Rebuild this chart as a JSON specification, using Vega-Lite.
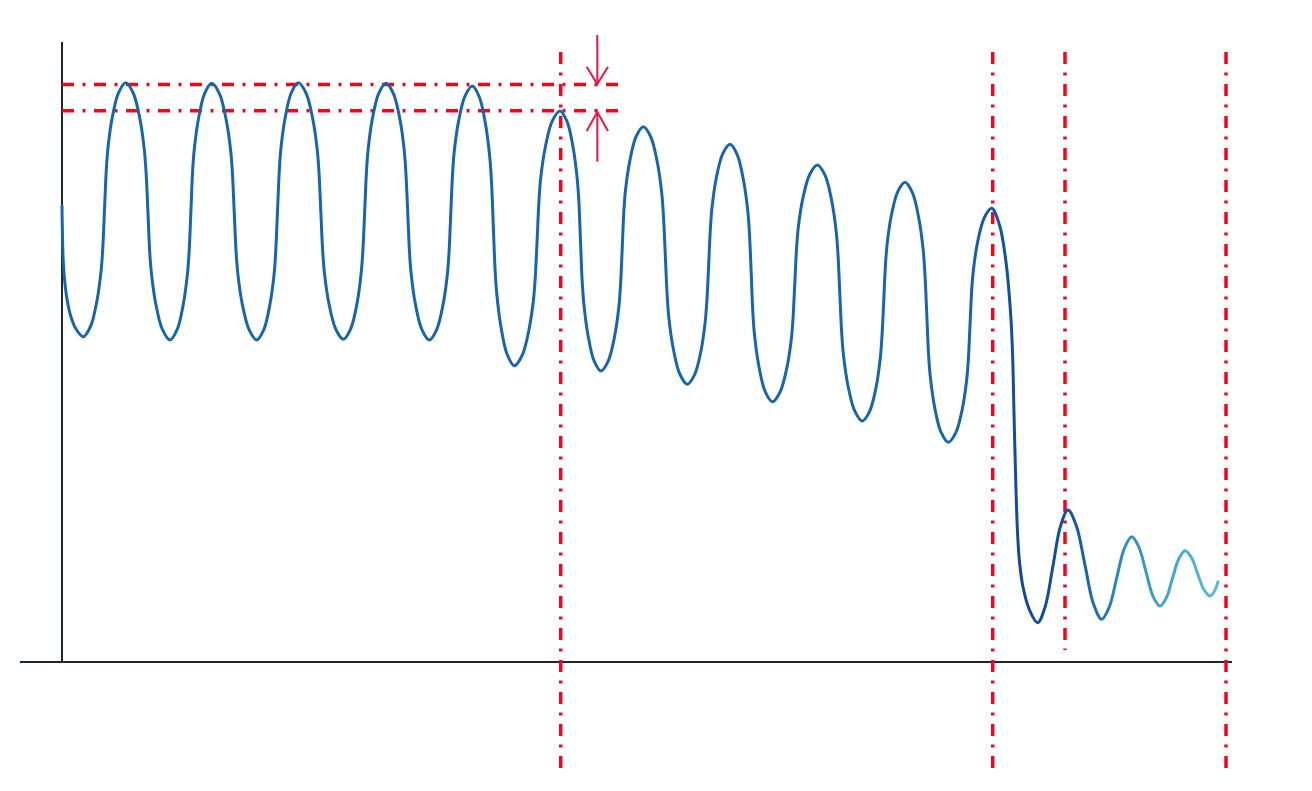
{
  "$schema": "https://vega.github.io/schema/vega-lite/v6.json",
  "width": 1312,
  "height": 791,
  "padding": 0,
  "autosize": {"type": "fit", "contains": "padding"},
  "background": "white",
  "config": {"view": {"stroke": null}},
  "datasets": {
    "axes": [
      {"x": 20, "x2": 1232, "y": 0, "y2": 0},
      {"x": 62, "x2": 62, "y": 0, "y2": 620}
    ],
    "guides": [
      {"x": 62, "x2": 626, "y": 577.5, "y2": 577.5},
      {"x": 62, "x2": 626, "y": 551.2, "y2": 551.2},
      {"x": 560.7, "x2": 560.7, "y": 610, "y2": -110},
      {"x": 992.7, "x2": 992.7, "y": 610, "y2": -110},
      {"x": 1065, "x2": 1065, "y": 610, "y2": 12},
      {"x": 1226, "x2": 1226, "y": 610, "y2": -110}
    ],
    "arrowShafts": [
      {"x": 597.3, "x2": 597.3, "y": 627, "y2": 579},
      {"x": 597.3, "x2": 597.3, "y": 500.3, "y2": 550}
    ],
    "arrowHeads": [
      {"id": "down", "o": 1, "x": 586.7, "y": 595.3},
      {"id": "down", "o": 2, "x": 597.3, "y": 578},
      {"id": "down", "o": 3, "x": 608, "y": 595.3},
      {"id": "up", "o": 1, "x": 586.7, "y": 531},
      {"id": "up", "o": 2, "x": 597.3, "y": 550},
      {"id": "up", "o": 3, "x": 608, "y": 531}
    ],
    "wave": [
      {"x": 62, "y": 456}, {"x": 62.4, "y": 430}, {"x": 63.3, "y": 400}, {"x": 65, "y": 378},
      {"x": 67.5, "y": 360}, {"x": 71, "y": 345}, {"x": 76, "y": 333},
      {"x": 83.3, "y": 325.3},
      {"x": 90.5, "y": 335.5}, {"x": 96.9, "y": 360.9}, {"x": 101.1, "y": 391.3}, {"x": 102.8, "y": 414.2},
      {"x": 104.5, "y": 452.3}, {"x": 106.2, "y": 490.4}, {"x": 107.9, "y": 513.3}, {"x": 112.1, "y": 543.7}, {"x": 118.5, "y": 569.1},
      {"x": 125.7, "y": 579.3},
      {"x": 133.2, "y": 569.0}, {"x": 139.9, "y": 543.3}, {"x": 144.3, "y": 512.4}, {"x": 146.1, "y": 489.2},
      {"x": 147.9, "y": 450.7}, {"x": 149.6, "y": 412.1}, {"x": 151.4, "y": 388.9}, {"x": 155.8, "y": 358.0}, {"x": 162.5, "y": 332.3},
      {"x": 170, "y": 322},
      {"x": 177.1, "y": 332.3}, {"x": 183.3, "y": 357.9}, {"x": 187.5, "y": 388.7}, {"x": 189.2, "y": 411.9},
      {"x": 190.9, "y": 450.4}, {"x": 192.5, "y": 488.9}, {"x": 194.2, "y": 512.0}, {"x": 198.4, "y": 542.8}, {"x": 204.6, "y": 568.4},
      {"x": 211.7, "y": 578.7},
      {"x": 219.4, "y": 568.4}, {"x": 226.1, "y": 542.8}, {"x": 230.6, "y": 512.0}, {"x": 232.4, "y": 488.9},
      {"x": 234.2, "y": 450.4}, {"x": 236.0, "y": 411.8}, {"x": 237.8, "y": 388.7}, {"x": 242.3, "y": 357.9}, {"x": 249.1, "y": 332.3},
      {"x": 256.7, "y": 322},
      {"x": 263.8, "y": 332.3}, {"x": 270.0, "y": 358.0}, {"x": 274.2, "y": 388.9}, {"x": 275.8, "y": 412.1},
      {"x": 277.5, "y": 450.7}, {"x": 279.2, "y": 489.3}, {"x": 280.8, "y": 512.4}, {"x": 285.0, "y": 543.3}, {"x": 291.2, "y": 569.0},
      {"x": 298.3, "y": 579.3},
      {"x": 306.0, "y": 569.0}, {"x": 312.7, "y": 543.4}, {"x": 317.2, "y": 512.6}, {"x": 319.0, "y": 489.5},
      {"x": 320.8, "y": 451.0}, {"x": 322.6, "y": 412.5}, {"x": 324.4, "y": 389.4}, {"x": 328.9, "y": 358.6}, {"x": 335.7, "y": 333.0},
      {"x": 343.3, "y": 322.7},
      {"x": 350.6, "y": 332.9}, {"x": 357.0, "y": 358.5}, {"x": 361.2, "y": 389.3}, {"x": 362.9, "y": 412.3},
      {"x": 364.7, "y": 450.7}, {"x": 366.4, "y": 489.1}, {"x": 368.1, "y": 512.1}, {"x": 372.3, "y": 542.9}, {"x": 378.7, "y": 568.5},
      {"x": 386, "y": 578.7},
      {"x": 393.4, "y": 568.4}, {"x": 399.9, "y": 542.8}, {"x": 404.2, "y": 512.0}, {"x": 405.9, "y": 488.9},
      {"x": 407.7, "y": 450.4}, {"x": 409.4, "y": 411.8}, {"x": 411.1, "y": 388.7}, {"x": 415.4, "y": 357.9}, {"x": 421.9, "y": 332.3},
      {"x": 429.3, "y": 322},
      {"x": 436.6, "y": 332.2}, {"x": 443.1, "y": 357.6}, {"x": 447.4, "y": 388.0}, {"x": 449.1, "y": 410.9},
      {"x": 450.8, "y": 449.0}, {"x": 452.5, "y": 487.1}, {"x": 454.2, "y": 510.0}, {"x": 458.5, "y": 540.4}, {"x": 465.0, "y": 565.8},
      {"x": 472.3, "y": 576},
      {"x": 479.4, "y": 564.8}, {"x": 485.7, "y": 536.8}, {"x": 489.9, "y": 503.3}, {"x": 491.6, "y": 478.1},
      {"x": 493.3, "y": 436.2}, {"x": 495.0, "y": 394.2}, {"x": 496.7, "y": 369.0}, {"x": 500.9, "y": 335.5}, {"x": 507.2, "y": 307.5},
      {"x": 514.3, "y": 296.3},
      {"x": 522.1, "y": 306.5}, {"x": 528.9, "y": 332.0}, {"x": 533.5, "y": 362.5}, {"x": 535.3, "y": 385.5},
      {"x": 537.2, "y": 423.7}, {"x": 539.0, "y": 461.9}, {"x": 540.8, "y": 484.8}, {"x": 545.4, "y": 515.3}, {"x": 552.2, "y": 540.8},
      {"x": 560, "y": 551},
      {"x": 567.0, "y": 540.6}, {"x": 573.1, "y": 514.6}, {"x": 577.2, "y": 483.4}, {"x": 578.9, "y": 460.0},
      {"x": 580.5, "y": 421.0}, {"x": 582.1, "y": 382.0}, {"x": 583.8, "y": 358.6}, {"x": 587.9, "y": 327.4}, {"x": 594.0, "y": 301.4},
      {"x": 601, "y": 291},
      {"x": 608.2, "y": 300.8}, {"x": 614.5, "y": 325.2}, {"x": 618.8, "y": 354.5}, {"x": 620.5, "y": 376.5},
      {"x": 622.2, "y": 413.2}, {"x": 623.8, "y": 449.8}, {"x": 625.5, "y": 471.8}, {"x": 629.8, "y": 501.1}, {"x": 636.1, "y": 525.5},
      {"x": 643.3, "y": 535.3},
      {"x": 650.8, "y": 525.0}, {"x": 657.4, "y": 499.2}, {"x": 661.8, "y": 468.3}, {"x": 663.5, "y": 445.1},
      {"x": 665.3, "y": 406.5}, {"x": 667.1, "y": 367.9}, {"x": 668.8, "y": 344.7}, {"x": 673.2, "y": 313.8}, {"x": 679.8, "y": 288.0},
      {"x": 687.3, "y": 277.7},
      {"x": 694.6, "y": 287.3}, {"x": 701.0, "y": 311.3}, {"x": 705.2, "y": 340.1}, {"x": 706.9, "y": 361.7},
      {"x": 708.7, "y": 397.7}, {"x": 710.4, "y": 433.7}, {"x": 712.1, "y": 455.3}, {"x": 716.3, "y": 484.1}, {"x": 722.7, "y": 508.1},
      {"x": 730, "y": 517.7},
      {"x": 737.2, "y": 507.4}, {"x": 743.5, "y": 481.7}, {"x": 747.8, "y": 450.8}, {"x": 749.5, "y": 427.6},
      {"x": 751.2, "y": 389.0}, {"x": 752.8, "y": 350.4}, {"x": 754.5, "y": 327.2}, {"x": 758.8, "y": 296.3}, {"x": 765.1, "y": 270.6},
      {"x": 772.3, "y": 260.3},
      {"x": 780.0, "y": 269.8}, {"x": 786.7, "y": 293.4}, {"x": 791.2, "y": 321.8}, {"x": 793.0, "y": 343.2},
      {"x": 794.8, "y": 378.7}, {"x": 796.6, "y": 414.2}, {"x": 798.4, "y": 435.5}, {"x": 802.9, "y": 463.9}, {"x": 809.7, "y": 487.5},
      {"x": 817.3, "y": 497},
      {"x": 825.0, "y": 486.8}, {"x": 831.7, "y": 461.2}, {"x": 836.2, "y": 430.4}, {"x": 838.0, "y": 407.4},
      {"x": 839.8, "y": 369.0}, {"x": 841.6, "y": 330.6}, {"x": 843.4, "y": 307.6}, {"x": 847.9, "y": 276.8}, {"x": 854.7, "y": 251.2},
      {"x": 862.3, "y": 241},
      {"x": 869.6, "y": 250.6}, {"x": 876.0, "y": 274.4}, {"x": 880.2, "y": 303.1}, {"x": 881.9, "y": 324.6},
      {"x": 883.7, "y": 360.4}, {"x": 885.4, "y": 396.2}, {"x": 887.1, "y": 417.6}, {"x": 891.3, "y": 446.3}, {"x": 897.7, "y": 470.2},
      {"x": 905, "y": 479.7},
      {"x": 912.4, "y": 469.3}, {"x": 918.9, "y": 443.3}, {"x": 923.2, "y": 412.1}, {"x": 924.9, "y": 388.7},
      {"x": 926.7, "y": 349.7}, {"x": 928.4, "y": 310.7}, {"x": 930.1, "y": 287.3}, {"x": 934.4, "y": 256.1}, {"x": 940.9, "y": 230.1},
      {"x": 948.3, "y": 219.7},
      {"x": 955.7, "y": 229.1}, {"x": 962.2, "y": 252.5}, {"x": 966.5, "y": 280.5}, {"x": 968.3, "y": 301.6},
      {"x": 970.0, "y": 336.7}, {"x": 971.7, "y": 371.8}, {"x": 973.5, "y": 392.9}, {"x": 977.8, "y": 420.9}, {"x": 984.3, "y": 444.3},
      {"x": 991.7, "y": 453.7},
      {"x": 999.5, "y": 437}, {"x": 1006, "y": 400}, {"x": 1010.5, "y": 350}, {"x": 1012.5, "y": 310},
      {"x": 1014, "y": 249}, {"x": 1015.7, "y": 182}, {"x": 1017.5, "y": 130}, {"x": 1019.5, "y": 100}, {"x": 1023, "y": 75}, {"x": 1029.5, "y": 52},
      {"x": 1037.7, "y": 39.3},
      {"x": 1045.3, "y": 55.8}, {"x": 1052.9, "y": 95.7}, {"x": 1060.4, "y": 135.5},
      {"x": 1068, "y": 152},
      {"x": 1076.4, "y": 136.0}, {"x": 1084.9, "y": 97.4}, {"x": 1093.3, "y": 58.7},
      {"x": 1101.7, "y": 42.7},
      {"x": 1109.2, "y": 54.8}, {"x": 1116.7, "y": 84.0}, {"x": 1124.2, "y": 113.2},
      {"x": 1131.7, "y": 125.3},
      {"x": 1138.8, "y": 115.2}, {"x": 1145.9, "y": 90.7}, {"x": 1152.9, "y": 66.1},
      {"x": 1160, "y": 56},
      {"x": 1166.3, "y": 64.1}, {"x": 1172.5, "y": 83.7}, {"x": 1178.8, "y": 103.2},
      {"x": 1185, "y": 111.3},
      {"x": 1191.3, "y": 104.7}, {"x": 1197.5, "y": 88.7}, {"x": 1203.8, "y": 72.6},
      {"x": 1210, "y": 66},
      {"x": 1214, "y": 70},
      {"x": 1218, "y": 80.3}
    ]
  },
  "layer": [
    {
      "data": {"name": "axes"},
      "mark": {"type": "rule", "color": "#1c2828", "strokeWidth": 2},
      "encoding": {
        "x": {"field": "x", "type": "quantitative", "scale": {"domain": [0, 1312], "nice": false, "zero": false}, "axis": null},
        "x2": {"field": "x2"},
        "y": {"field": "y", "type": "quantitative", "scale": {"domain": [-129, 662], "nice": false, "zero": false}, "axis": null},
        "y2": {"field": "y2"}
      }
    },
    {
      "data": {"name": "guides"},
      "mark": {"type": "rule", "color": "#f2061e", "strokeWidth": 3.5, "strokeDash": [12, 8.5, 3, 8.5]},
      "encoding": {
        "x": {"field": "x", "type": "quantitative"},
        "x2": {"field": "x2"},
        "y": {"field": "y", "type": "quantitative"},
        "y2": {"field": "y2"}
      }
    },
    {
      "data": {"name": "arrowShafts"},
      "mark": {"type": "rule", "color": "#e8164c", "strokeWidth": 2},
      "encoding": {
        "x": {"field": "x", "type": "quantitative"},
        "x2": {"field": "x2"},
        "y": {"field": "y", "type": "quantitative"},
        "y2": {"field": "y2"}
      }
    },
    {
      "data": {"name": "arrowHeads"},
      "mark": {"type": "line", "color": "#e8164c", "strokeWidth": 2},
      "encoding": {
        "x": {"field": "x", "type": "quantitative"},
        "y": {"field": "y", "type": "quantitative"},
        "detail": {"field": "id"},
        "order": {"field": "o"}
      }
    },
    {
      "data": {"name": "wave"},
      "mark": {
        "type": "line",
        "interpolate": "catmull-rom",
        "strokeWidth": 3,
        "strokeCap": "round",
        "stroke": {
          "gradient": "linear",
          "x1": 0, "y1": 0, "x2": 1, "y2": 0,
          "stops": [
            {"offset": 0, "color": "#1766ab"},
            {"offset": 0.78, "color": "#1766ab"},
            {"offset": 0.83, "color": "#0f4a98"},
            {"offset": 0.87, "color": "#14509c"},
            {"offset": 0.92, "color": "#2f8fc0"},
            {"offset": 1, "color": "#5bbcd8"}
          ]
        }
      },
      "encoding": {
        "x": {"field": "x", "type": "quantitative"},
        "y": {"field": "y", "type": "quantitative"}
      }
    }
  ]
}
